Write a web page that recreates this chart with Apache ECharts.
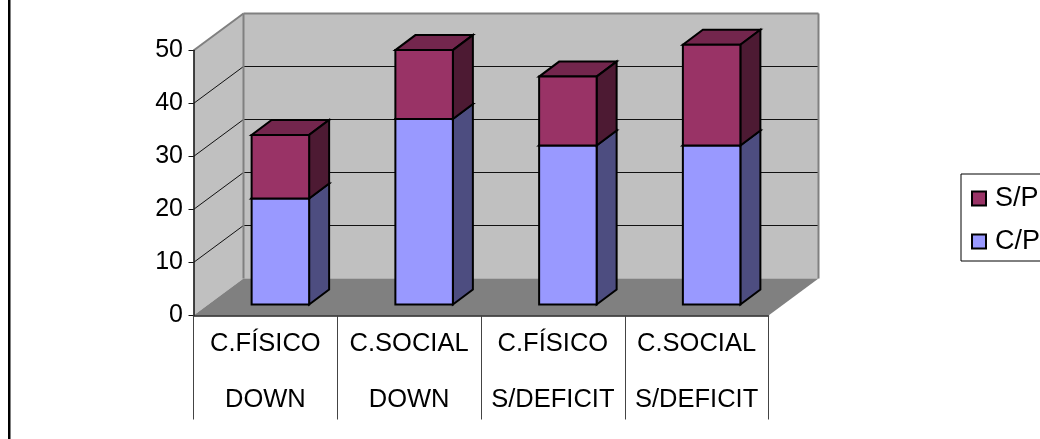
<!DOCTYPE html>
<html><head><meta charset="utf-8">
<style>html,body{margin:0;padding:0;background:#fff}#c{width:1040px;height:439px}</style>
<script src="https://cdn.jsdelivr.net/npm/echarts@6/dist/echarts.min.js"></script>
</head><body><div id="c"></div>
<script>
const categories = ['C.FÍSICO\nDOWN','C.SOCIAL\nDOWN','C.FÍSICO\nS/DEFICIT','C.SOCIAL\nS/DEFICIT'];
const cpValues = [20,35,30,30];
const spValues = [12,13,13,19];
const yMax = 50;
const yStep = 10;
const gridValues = [10,20,30,40];

const DEPTH_X = 50, DEPTH_Y = -37;
const BAR_OFF_X = 15, BAR_OFF_Y = -11, BAR_DX = 20, BAR_DY = -15;

const chart = echarts.init(document.getElementById('c'), null, {renderer:'canvas'});
const poly = (pts, fill, stroke, lw) => ({type:'polygon', shape:{points:pts},
  style:{fill:fill, stroke:stroke||null, lineWidth:lw||0, lineJoin:'miter'}});
const line = (a,b,stroke,lw) => ({type:'line', shape:{x1:a[0],y1:a[1],x2:b[0],y2:b[1]}, style:{stroke:stroke,lineWidth:lw}});

function renderWalls(params, api){
  const w = api.size([1,0])[0];
  const n = categories.length;
  const p0 = api.coord([0,0]), p1 = api.coord([n-1,yMax]);
  const L = p0[0]-w/2, R = p1[0]+w/2, B = p0[1], T = p1[1];
  const D = (x,y)=>[x+DEPTH_X,y+DEPTH_Y];
  const children = [
    poly([[L,B],[L,T],D(L,T),D(L,B)],'#C0C0C0'),
    poly([D(L,T),D(R,T),D(R,B),D(L,B)],'#C0C0C0'),
    poly([[L,B],[R,B],D(R,B),D(L,B)],'#808080')
  ];
  gridValues.forEach(v=>{
    const y = api.coord([0,v])[1];
    children.push(line([L,y],D(L,y),'#111',1));
    children.push(line(D(L,y),D(R,y),'#111',1));
  });
  children.push(line([L,T],D(L,T),'#808080',2));
  children.push(line(D(L,T),D(R,T),'#808080',2));
  children.push(line(D(L,T),D(L,B),'#808080',2));
  children.push(line(D(R,T),D(R,B),'#808080',2));
  return {type:'group', children};
}
function makeBarRender(front, side, top){
  return function(params, api){
    const i = api.value(0), w = api.size([1,0])[0]*0.4;
    const c0 = api.coord([i, api.value(1)]), c1 = api.coord([i, api.value(2)]);
    const l = c0[0]-w/2+BAR_OFF_X, r = l+w;
    const b = c0[1]+BAR_OFF_Y, t = c1[1]+BAR_OFF_Y;
    const S='#000', LW=2;
    return {type:'group', children:[
      poly([[l,t],[r,t],[r+BAR_DX,t+BAR_DY],[l+BAR_DX,t+BAR_DY]],top,S,LW),
      poly([[r,b],[r+BAR_DX,b+BAR_DY],[r+BAR_DX,t+BAR_DY],[r,t]],side,S,LW),
      poly([[l,b],[r,b],[r,t],[l,t]],front,S,LW)
    ]};
  };
}
const cpData = cpValues.map((v,i)=>[i,0,v]);
const spData = spValues.map((v,i)=>[i,cpValues[i],cpValues[i]+v]);
const FONT = '"Liberation Sans", Arial, sans-serif';

chart.setOption({
  animation:false,
  backgroundColor:'#fff',
  textStyle:{fontFamily:FONT},
  grid:{left:193.5,right:271.5,top:50.5,bottom:123.5,containLabel:false},
  xAxis:{type:'category',data:categories,z:10,
    axisLine:{lineStyle:{color:'#222',width:1.5}},
    axisTick:{show:true,alignWithLabel:false,length:104,lineStyle:{color:'#444',width:1}},
    axisLabel:{color:'#000',fontSize:25.5,fontFamily:FONT,lineHeight:56,margin:0,interval:0,hideOverlap:false},
    splitLine:{show:false}},
  yAxis:{type:'value',min:0,max:yMax,interval:yStep,z:10,
    axisLine:{show:true,lineStyle:{color:'#111',width:1.5}},
    axisTick:{show:true,length:5,lineStyle:{color:'#111',width:1}},
    axisLabel:{color:'#000',fontSize:25,fontFamily:FONT,margin:10.5,padding:[3,0,0,0]},
    splitLine:{show:false}},
  legend:{orient:'vertical',left:961,top:174,padding:[11,10,6,10],itemGap:16,itemWidth:14,itemHeight:14,
    borderColor:'#000',borderWidth:1,backgroundColor:'#fff',icon:'rect',
    textStyle:{fontSize:27,fontFamily:FONT,color:'#000',padding:[0,0,0,4]},
    itemStyle:{borderColor:'#000',borderWidth:2},
    data:['S/P','C/P']},
  series:[
    {type:'custom',name:'walls',silent:true,z:1,clip:false,data:[[0]],encode:{x:0},renderItem:renderWalls},
    {type:'custom',name:'C/P',z:3,clip:false,data:cpData,encode:{x:0,y:[1,2]},itemStyle:{color:'#9999FF'},
      renderItem:makeBarRender('#9999FF','#4D4D80','#7A7ACC')},
    {type:'custom',name:'S/P',z:4,clip:false,data:spData,encode:{x:0,y:[1,2]},itemStyle:{color:'#993366'},
      renderItem:makeBarRender('#993366','#4D1A33','#73264D')}
  ],
  graphic:[{type:'rect',z:100,shape:{x:8,y:0,width:2.5,height:439},style:{fill:'#000'}}]
});
</script></body></html>
